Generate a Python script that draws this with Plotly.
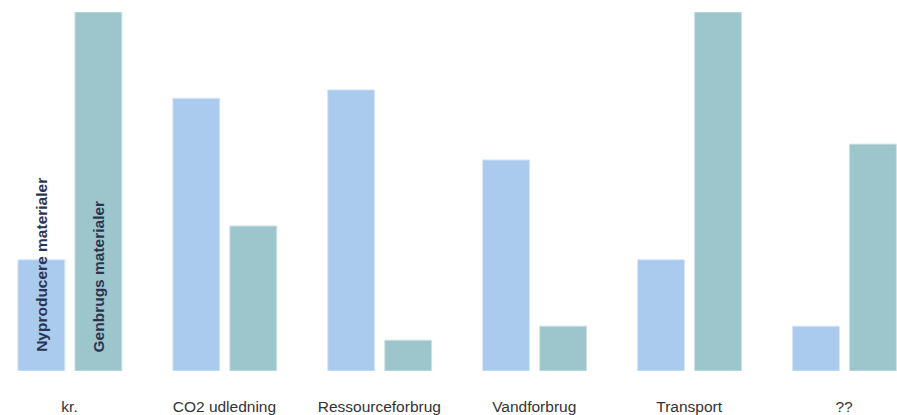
import plotly.graph_objects as go

categories = ["kr.", "CO2 udledning", "Ressourceforbrug", "Vandforbrug", "Transport", "??"]
nyproducere = [31, 76, 78.3, 58.8, 31, 12.5]
genbrug = [100, 40.4, 8.6, 12.5, 100, 63.2]
series_names = ["Nyproducere materialer", "Genbrugs materialer"]

xpos = list(range(len(categories)))

fig = go.Figure()
fig.add_trace(go.Bar(x=xpos, y=nyproducere, name=series_names[0], width=0.303, offset=-0.333,
                     marker=dict(color="#aacbee", line=dict(color="#d6e6f7", width=1))))
fig.add_trace(go.Bar(x=xpos, y=genbrug, name=series_names[1], width=0.303, offset=0.035,
                     marker=dict(color="#9dc6cc", line=dict(color="#cfe3e6", width=1))))

# vertical series labels inside the first pair of bars
for name, dx in [(series_names[0], -0.185), (series_names[1], 0.187)]:
    fig.add_annotation(x=xpos[0] + dx, y=0, xref="x", yref="y", text="<b>%s</b>" % name,
                       textangle=-90, showarrow=False, yanchor="bottom", yshift=17,
                       font=dict(family="Liberation Sans, Arial", size=15.5, color="#2b3452"))

fig.update_layout(
    width=897, height=415, margin=dict(l=0, r=0, t=12, b=44),
    plot_bgcolor="white", paper_bgcolor="white", showlegend=False, barmode="group",
    xaxis=dict(range=[-0.4487, 5.342], tickvals=xpos, ticktext=categories, showgrid=False,
               zeroline=False, showline=False, ticks="outside", ticklen=21,
               tickcolor="rgba(0,0,0,0)",
               tickfont=dict(family="Liberation Sans, Arial", size=15.5, color="#333333")),
    yaxis=dict(range=[0, 100], visible=False, showgrid=False),
)
fig.write_html("out.html")
